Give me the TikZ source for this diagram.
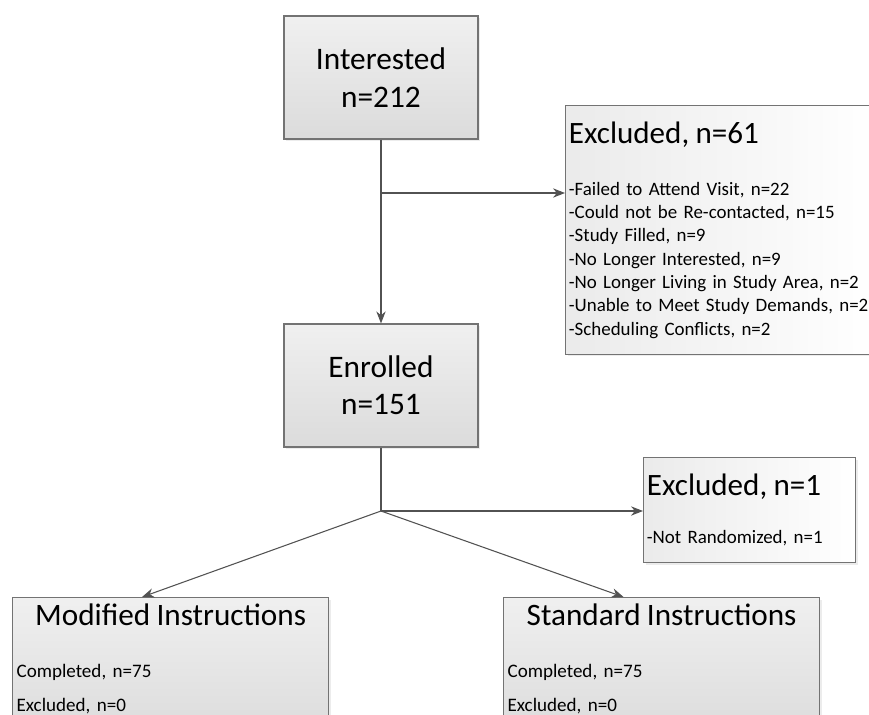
\documentclass[tikz,border=0pt]{standalone}
\usepackage{fontspec}
\setmainfont{Carlito}
\usetikzlibrary{arrows.meta,positioning,calc,shadows}

\begin{document}
\begin{tikzpicture}[
  x=0.75pt, y=-0.75pt,
  box/.style={draw=black!55, line width=0.9pt, rectangle, inner sep=0pt,
    drop shadow={shadow xshift=1.5pt, shadow yshift=-1.5pt, fill=black!15}},
  mainbox/.style={box, top color=black!6, bottom color=black!14,
    minimum width=145.5pt, minimum height=92.25pt, align=center,
    font=\fontsize{23.5}{28}\selectfont},
  exclbox/.style={box, left color=black!8, right color=white, inner xsep=2.5pt,
    align=left, font=\fontsize{14.2}{17.5}\selectfont},
  armbox/.style={box, top color=black!6, bottom color=black!13, inner xsep=3pt,
    inner ysep=5pt, text width=231pt, align=left, font=\fontsize{14.3}{25.5}\selectfont},
  link/.style={draw=black!68, line width=0.8pt},
  flow/.style={link, -{Stealth[length=9pt,width=7pt]}}
]
  \clip (0,0) rectangle (869,715);
  % boxes of the flow
  \node[mainbox] (interested) at (381,77.5) {Interested\\n=212};
  \node[mainbox] (enrolled) at (381,385.5) {Enrolled\\n=151};
  \node[exclbox, text width=227.5pt, inner ysep=12pt, anchor=north west] (excl61) at (565,105)
    {{\fontsize{23.3}{26}\selectfont Excluded, n=61}\\[21.5pt]
     -Failed to Attend Visit, n=22\\
     -Could not be Re-contacted, n=15\\
     -Study Filled, n=9\\
     -No Longer Interested, n=9\\
     -No Longer Living in Study Area, n=2\\
     -Unable to Meet Study Demands, n=2\\
     -Scheduling Conflicts, n=2};
  \node[exclbox, text width=154pt, minimum height=78.75pt, anchor=north west] (excl1) at (643,457)
    {{\fontsize{23.3}{26}\selectfont Excluded, n=1}\\[18.5pt]
     -Not Randomized, n=1};
  \node[armbox, anchor=north west] (modified) at (12,597)
    {\makebox[\hsize]{\fontsize{23.4}{25}\selectfont Modified Instructions}\\[13.5pt]
     Completed, n=75\\
     Excluded, n=0};
  \node[armbox, anchor=north west] (standard) at (503,597)
    {\makebox[\hsize]{\fontsize{23.4}{25}\selectfont Standard Instructions}\\[13.5pt]
     Completed, n=75\\
     Excluded, n=0};
  % branch points
  \coordinate (split1) at (381,193);
  \coordinate (split2) at (381,511);
  \draw[flow] (interested) -- (enrolled);
  \draw[flow] (split1) -- (split1 -| excl61.west);
  \draw[link] (enrolled.south) -- (split2);
  \draw[flow] (split2) -- (split2 -| excl1.west);
  \draw[flow] (split2) -- ($(modified.north west)!0.41!(modified.north east)$);
  \draw[flow] (split2) -- ($(standard.north west)!0.38!(standard.north east)$);
\end{tikzpicture}
\end{document}
